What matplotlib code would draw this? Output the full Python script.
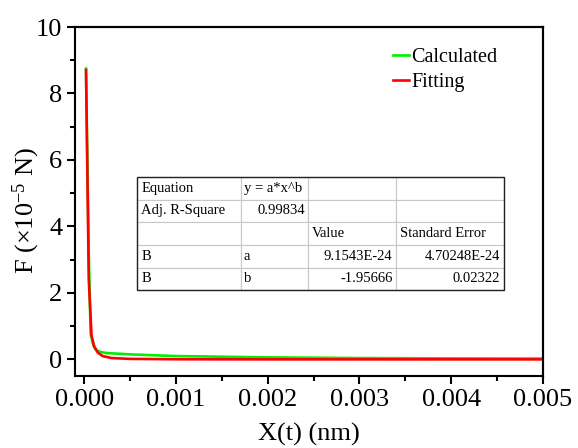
import matplotlib
matplotlib.use("Agg")
import matplotlib.pyplot as plt
from matplotlib.patches import Rectangle

plt.rcParams["font.family"] = ["Liberation Serif", "DejaVu Serif"]
plt.rcParams["mathtext.default"] = "regular"

# force vs displacement (F in units of 1e-5 N, X in nm)
x_calc = [0.00002, 0.00005, 0.00007, 0.00010, 0.00013, 0.00018, 0.00025, 0.0005,
          0.0010, 0.0020, 0.0030, 0.0040, 0.0050]
f_calc = [8.75, 3.20, 0.78, 0.42, 0.28, 0.22, 0.19, 0.15,
          0.10, 0.06, 0.04, 0.03, 0.025]
x_fit = [0.00002, 0.00005, 0.00008, 0.00011, 0.00015, 0.00020, 0.00030, 0.0005,
         0.0010, 0.0020, 0.0050]
f_fit = [8.70, 2.40, 0.72, 0.38, 0.20, 0.10, 0.04, 0.015,
         0.004, 0.001, 0.0002]

x_major = [0, 0.001, 0.002, 0.003, 0.004, 0.005]
x_labels = ["0.000", "0.001", "0.002", "0.003", "0.004", "0.005"]
x_minor = [0.0005, 0.0015, 0.0025, 0.0035, 0.0045]
y_major = [0, 2, 4, 6, 8, 10]
y_minor = [1, 3, 5, 7, 9]

# fit report
tbl_rows = [
    ["Equation", "y = a*x^b", "", ""],
    ["Adj. R-Square", "0.99834", "", ""],
    ["", "", "Value", "Standard Error"],
    ["B", "a", "9.1543E-24", "4.70248E-24"],
    ["B", "b", "-1.95666", "0.02322"],
]
tbl_col_w = [104, 67, 88, 108]

fig = plt.figure(figsize=(5.78, 4.48), dpi=100)
ax = fig.add_axes([75 / 578, 1 - 376 / 448, 468 / 578, 349 / 448])

ax.plot(x_calc, f_calc, color="#00ee00", lw=1.9, label="Calculated")
ax.plot(x_fit, f_fit, color="#ff0000", lw=1.9, label="Fitting")

ax.set_xlim(-0.0001, 0.005)
ax.set_ylim(-0.5, 10)
ax.set_xticks(x_major)
ax.set_xticklabels(x_labels)
ax.set_xticks(x_minor, minor=True)
ax.set_yticks(y_major)
ax.set_yticks(y_minor, minor=True)
ax.tick_params(which="major", direction="out", length=6, width=1.5,
               labelsize=19, pad=3)
ax.tick_params(which="minor", direction="out", length=3.5, width=1.5)
for s in ax.spines.values():
    s.set_linewidth(1.5)

# tiny marks along the top and right frame
top = ax.secondary_xaxis("top")
top.set_xticks(x_major + x_minor)
top.tick_params(direction="inout", length=2, width=1.5, labeltop=False)
top.spines["top"].set_linewidth(1.5)
right = ax.secondary_yaxis("right")
right.set_yticks(y_major + y_minor)
right.tick_params(direction="inout", length=2, width=1.5, labelright=False)
right.spines["right"].set_linewidth(1.5)

ax.set_xlabel("X(t) (nm)", fontsize=19, labelpad=9)
ax.set_ylabel("F (×10$^{-5}$ N)", fontsize=19)
ax.yaxis.set_label_coords(-0.07, 0.475)

ax.legend(loc="upper left", bbox_to_anchor=(0.68, 0.94), frameon=False,
          fontsize=14.5, handlelength=0.8, handletextpad=0.1,
          labelspacing=0.3, borderpad=0, borderaxespad=0)

# fit result table
total_w = sum(tbl_col_w)
tbox = [0.1325, 0.246, total_w / 468, 0.324]
tb = ax.table(cellText=tbl_rows, colWidths=[w / total_w for w in tbl_col_w],
              bbox=tbox, cellLoc="left")
tb.auto_set_font_size(False)
tb.set_fontsize(10.5)
for (r, c), cell in tb.get_celld().items():
    cell.set_edgecolor("#c8c8c8")
    cell.set_linewidth(0.8)
    cell.PAD = 0.04
    txt = tbl_rows[r][c]
    if txt and (txt[0].isdigit() or txt[0] == "-"):
        cell._loc = "right"
        cell.get_text().set_horizontalalignment("right")
ax.add_patch(Rectangle(tbox[:2], tbox[2], tbox[3], transform=ax.transAxes,
                       fill=False, edgecolor="#222222", lw=1.0, zorder=5))

fig.savefig("out.png", dpi=100)
